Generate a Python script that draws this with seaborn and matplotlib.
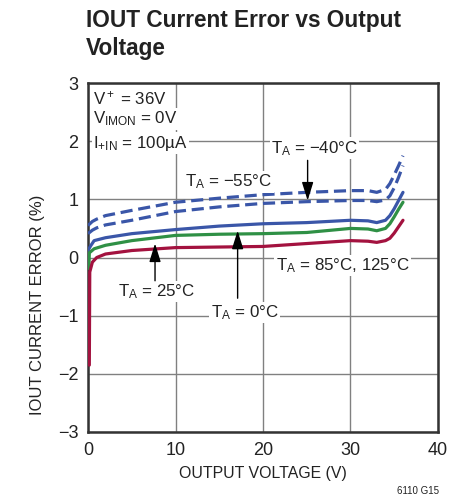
import numpy as np
import pandas as pd
import seaborn as sns
import matplotlib
import matplotlib.pyplot as plt
from matplotlib import font_manager

# data
x_m55 = [0, 0.5, 1, 2, 5, 10, 15, 20, 25, 30, 32, 33, 34, 34.5, 35, 35.5, 36]
y_m55 = [0.55, 0.62, 0.66, 0.72, 0.81, 0.95, 1.02, 1.08, 1.12, 1.15, 1.15, 1.12, 1.17, 1.27, 1.42, 1.58, 1.75]

x_m40 = [0, 0.5, 1, 2, 5, 10, 15, 20, 25, 30, 32, 33, 34, 34.5, 35, 35.5, 36]
y_m40 = [0.41, 0.47, 0.51, 0.56, 0.64, 0.79, 0.87, 0.93, 0.96, 0.98, 0.98, 0.96, 0.99, 1.06, 1.20, 1.38, 1.58]

x_0c = [0, 0.3, 0.7, 2, 5, 10, 15, 20, 25, 30, 32, 33, 34, 34.5, 35, 35.5, 36]
y_0c = [0.12, 0.20, 0.29, 0.34, 0.41, 0.48, 0.54, 0.58, 0.60, 0.64, 0.63, 0.60, 0.64, 0.72, 0.84, 0.98, 1.12]

x_25c = [0.1, 0.15, 0.7, 2, 5, 10, 15, 20, 25, 30, 32, 33, 34, 34.5, 35, 35.5, 36]
y_25c = [-0.19, 0.08, 0.15, 0.21, 0.29, 0.38, 0.40, 0.41, 0.43, 0.50, 0.49, 0.46, 0.50, 0.58, 0.70, 0.83, 0.95]

x_hot = [0.15, 0.2, 0.5, 1, 2, 5, 10, 15, 20, 25, 30, 32, 33, 34, 34.5, 35, 35.5, 36]
y_hot = [-1.85, -0.25, -0.08, 0.0, 0.06, 0.12, 0.17, 0.18, 0.19, 0.24, 0.29, 0.28, 0.26, 0.29, 0.33, 0.42, 0.53, 0.64]

x_ticks = [0, 10, 20, 30, 40]
y_ticks = [-3, -2, -1, 0, 1, 2, 3]

BLUE = "#3a56a8"
GREEN = "#2f9045"
RED = "#a3123f"

names = [f.name for f in font_manager.fontManager.ttflist]
narrow = "Liberation Sans Narrow" if "Liberation Sans Narrow" in names else "Liberation Sans"

sns.set_style("white")
plt.rcParams["font.family"] = [narrow, "DejaVu Sans"]
plt.rcParams["mathtext.fontset"] = "custom"
plt.rcParams["mathtext.rm"] = narrow
plt.rcParams["mathtext.it"] = narrow
plt.rcParams["mathtext.bf"] = narrow + ":bold"
plt.rcParams["axes.unicode_minus"] = True

fig = plt.figure(figsize=(4.56, 5.0), dpi=100)
ax = fig.add_axes([0.193, 0.136, 0.7675, 0.698])

series = [
    (x_m55, y_m55, BLUE, (0, (3.8, 1.8))),
    (x_m40, y_m40, BLUE, (0, (3.8, 1.8))),
    (x_0c, y_0c, BLUE, "-"),
    (x_25c, y_25c, GREEN, "-"),
    (x_hot, y_hot, RED, "-"),
]
for xs, ys, col, ls in series:
    df = pd.DataFrame({"v": xs, "err": ys})
    sns.lineplot(data=df, x="v", y="err", ax=ax, color=col, linewidth=2.3,
                 linestyle=ls, sort=False, estimator=None, zorder=3)

ax.set_xlim(0, 40)
ax.set_ylim(-3, 3)
ax.set_xticks(x_ticks)
ax.set_yticks(y_ticks)
ax.set_yticklabels([str(t).replace("-", "\u2212") for t in y_ticks])
ax.grid(True, color="#808080", linewidth=1.0)
ax.set_axisbelow(True)
for s in ax.spines.values():
    s.set_color("#333333")
    s.set_linewidth(1.8)
ax.tick_params(labelsize=13, length=0, pad=7, colors="#222222")
ax.set_xlabel("OUTPUT VOLTAGE (V)", fontsize=11.4, color="#222222", labelpad=5)
ax.set_ylabel("IOUT CURRENT ERROR (%)", fontsize=12, color="#222222", labelpad=10)
ax.yaxis.set_label_coords(-0.122, 0.364)

bb = dict(facecolor="white", edgecolor="none", pad=1.0)
tk = dict(fontsize=12.2, color="#222222", zorder=4)
ax.text(0.57, 2.63, "V$^+$ = 36V", bbox=bb, **tk)
ax.text(0.57, 2.30, "V$_\\mathregular{IMON}$ = 0V", bbox=bb, **tk)
ax.text(0.57, 1.89, "I$_\\mathregular{+IN}$ = 100\u00b5A", bbox=bb, **tk)

ax.text(25.9, 1.80, "T$_\\mathregular{A}$ = \u221240\u00b0C", ha="center", bbox=bb, **tk)
ax.text(16.1, 1.22, "T$_\\mathregular{A}$ = \u221255\u00b0C", ha="center", bbox=bb, **tk)
ax.text(7.8, -0.66, "T$_\\mathregular{A}$ = 25\u00b0C", ha="center", bbox=bb, **tk)
ax.text(17.9, -1.03, "T$_\\mathregular{A}$ = 0\u00b0C", ha="center", bbox=bb, **tk)
ax.text(29.1, -0.22, "T$_\\mathregular{A}$ = 85\u00b0C, 125\u00b0C", ha="center", bbox=bb, **tk)

ap = dict(arrowstyle="-|>,head_length=0.8,head_width=0.25", color="black", lw=1.0,
          mutation_scale=14, shrinkA=0, shrinkB=0)
ax.annotate("", xy=(25.1, 0.98), xytext=(25.1, 1.67), arrowprops=ap, zorder=5)
ax.annotate("", xy=(7.66, 0.24), xytext=(7.66, -0.40), arrowprops=ap, zorder=5)
ax.annotate("", xy=(17.1, 0.46), xytext=(17.1, -0.70), arrowprops=ap, zorder=5)

fig.text(0.189, 0.982, "IOUT Current Error vs Output\nVoltage", ha="left", va="top",
         fontsize=16.3, fontweight="bold", color="#222222", linespacing=1.3)
fig.text(0.963, 0.008, "6110 G15", ha="right", va="bottom", fontsize=7, color="#222222")

fig.savefig("out.png", dpi=100)
